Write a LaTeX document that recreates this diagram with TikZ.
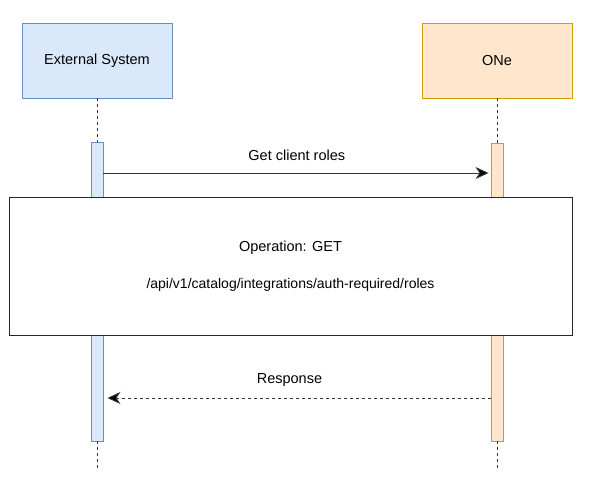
\documentclass[tikz,border=0pt]{standalone}
\usepackage{fontspec}
\setmainfont{Liberation Sans}
\usetikzlibrary{arrows.meta}
\definecolor{sysfill}{HTML}{DAE8FC}
\definecolor{sysline}{HTML}{6C8EBF}
\definecolor{onefill}{HTML}{FFE6CC}
\definecolor{oneline}{HTML}{D79B00}
\begin{document}
\begin{tikzpicture}[x=1pt, y=-1pt, every node/.style={rectangle, inner sep=0pt, font=\fontsize{14.5}{17}\selectfont},
    actor/.style={draw, line width=0.9pt, minimum width=150pt, minimum height=75pt},
    bar/.style={draw, line width=0.9pt, minimum width=12pt},
    life/.style={dash pattern=on 3pt off 3pt, line width=0.9pt, draw=black!80},
    msg/.style={line width=0.9pt, draw=black!80, -{Stealth[length=13pt, width=12pt, inset=4pt, fill=black]}}]
            \useasboundingbox (0,0) rectangle (597,480);
            \node[actor, fill=sysfill, draw=sysline] (ext) at (97,60.5) {External System};
            \node[actor, fill=onefill, draw=oneline] (one) at (497,60.5) {ONe};
            \node[bar, fill=sysfill, draw=sysline, minimum height=299pt] (extbar) at (97,291.5) {};
            \node[bar, fill=onefill, draw=oneline, minimum height=298pt] (onebar) at (497,292) {};
            \coordinate (extend) at (97,470);
            \coordinate (oneend) at (497,470);

            \draw[life] (ext) -- (extbar);
            \draw[life] (one) -- (onebar);
            \draw[life] (extbar) -- (extend);
            \draw[life] (onebar) -- (oneend);

            \coordinate (req) at (103,173);
            \coordinate (res) at (491,398);
            \draw[msg, shorten >=2pt] (req) -- (onebar.west |- req) node[midway, above=12pt] {Get client roles};
            \draw[msg, dash pattern=on 3pt off 3pt, shorten >=4pt] (res) -- (extbar.east |- res) node[pos=0.52, above=11pt] {Response};

            \node[draw, fill=white, line width=0.9pt, draw=black!85, minimum width=563pt, minimum height=138pt, align=center] (op) at (290.5,266)
              {Operation: GET\\[20pt]{\fontsize{14}{17}\selectfont /api/v1/catalog/integrations/auth-required/roles}};
          \end{tikzpicture}
\end{document}
